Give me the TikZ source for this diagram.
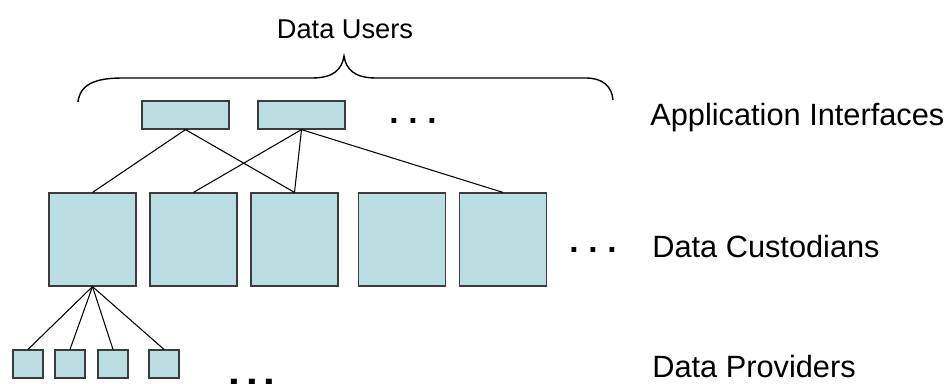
\documentclass[tikz,border=0pt]{standalone}
\usepackage{fontspec}
\setmainfont{Liberation Sans}
\definecolor{boxfill}{RGB}{187,222,226}
\definecolor{boxline}{RGB}{60,60,60}
\begin{document}
\begin{tikzpicture}[x=0.02cm, y=-0.02cm,
    appbox/.style={draw=boxline, fill=boxfill, line width=0.7pt, inner sep=0pt, minimum width=1.74cm, minimum height=0.56cm},
    custbox/.style={draw=boxline, fill=boxfill, line width=0.7pt, inner sep=0pt, minimum width=1.74cm, minimum height=1.86cm},
    provbox/.style={draw=boxline, fill=boxfill, line width=0.7pt, inner sep=0pt, minimum width=0.6cm, minimum height=0.56cm},
    lbl/.style={anchor=base west, inner sep=0pt, font=\fontsize{17.5}{20}\selectfont},
    dotrow/.style={inner sep=0pt, font=\fontsize{19}{19}\selectfont\bfseries},
    link/.style={line width=0.6pt}]
    \useasboundingbox (0,0) rectangle (950,383);

        % top label and brace
        \node[anchor=base, inner sep=0pt, font=\fontsize{15.5}{18}\selectfont] (users) at (345,38) {Data Users};
        \draw[line width=0.8pt] (78,102) .. controls (80,84) and (96,78) .. (122,78)
            -- (312,78) .. controls (334,78) and (342,69) .. (344,56)
            .. controls (346,69) and (354,78) .. (376,78)
            -- (586,78) .. controls (602,78) and (612,86) .. (613,100);

        % application interfaces
        \node[appbox] (app1) at (185.5,115) {};
        \node[appbox] (app2) at (301.5,115) {};
        \node[dotrow] (appdots) at (413,121) {.\hspace{5.5pt}.\hspace{5.5pt}.};

        % data custodians
        \node[custbox] (cust1) at (92.5,239.5) {};
        \node[custbox] (cust2) at (193.5,239.5) {};
        \node[custbox] (cust3) at (294.5,239.5) {};
        \node[custbox] (cust4) at (402,239.5) {};
        \node[custbox] (cust5) at (503,239.5) {};
        \node[dotrow] (custdots) at (593,250) {.\hspace{5.5pt}.\hspace{5.5pt}.};

        % data providers
        \node[provbox] (prov1) at (28,364) {};
        \node[provbox] (prov2) at (70,364) {};
        \node[provbox] (prov3) at (113,364) {};
        \node[provbox] (prov4) at (164,364) {};
        \node[dotrow, font=\fontsize{24}{24}\selectfont\bfseries] (provdots) at (252,382) {.\hspace{3.2pt}.\hspace{3.2pt}.};

        % links
        \draw[link] (app1.south) -- (cust1.north);
        \draw[link] (app1.south) -- (cust3.north);
        \draw[link] (app2.south) -- (cust2.north);
        \draw[link] (app2.south) -- (cust3.north);
        \draw[link] (app2.south) -- (cust5.north);
        \draw[link] (cust1.south) -- (prov1.north);
        \draw[link] (cust1.south) -- (prov2.north);
        \draw[link] (cust1.south) -- (prov3.north);
        \draw[link] (cust1.south) -- (prov4.north);

        % level names
        \node[lbl] (appname) at (650,125) {Application Interfaces};
        \node[lbl] (custname) at (652,257) {Data Custodians};
        \node[lbl] (provname) at (652,377) {Data Providers};
    \end{tikzpicture}
\end{document}
